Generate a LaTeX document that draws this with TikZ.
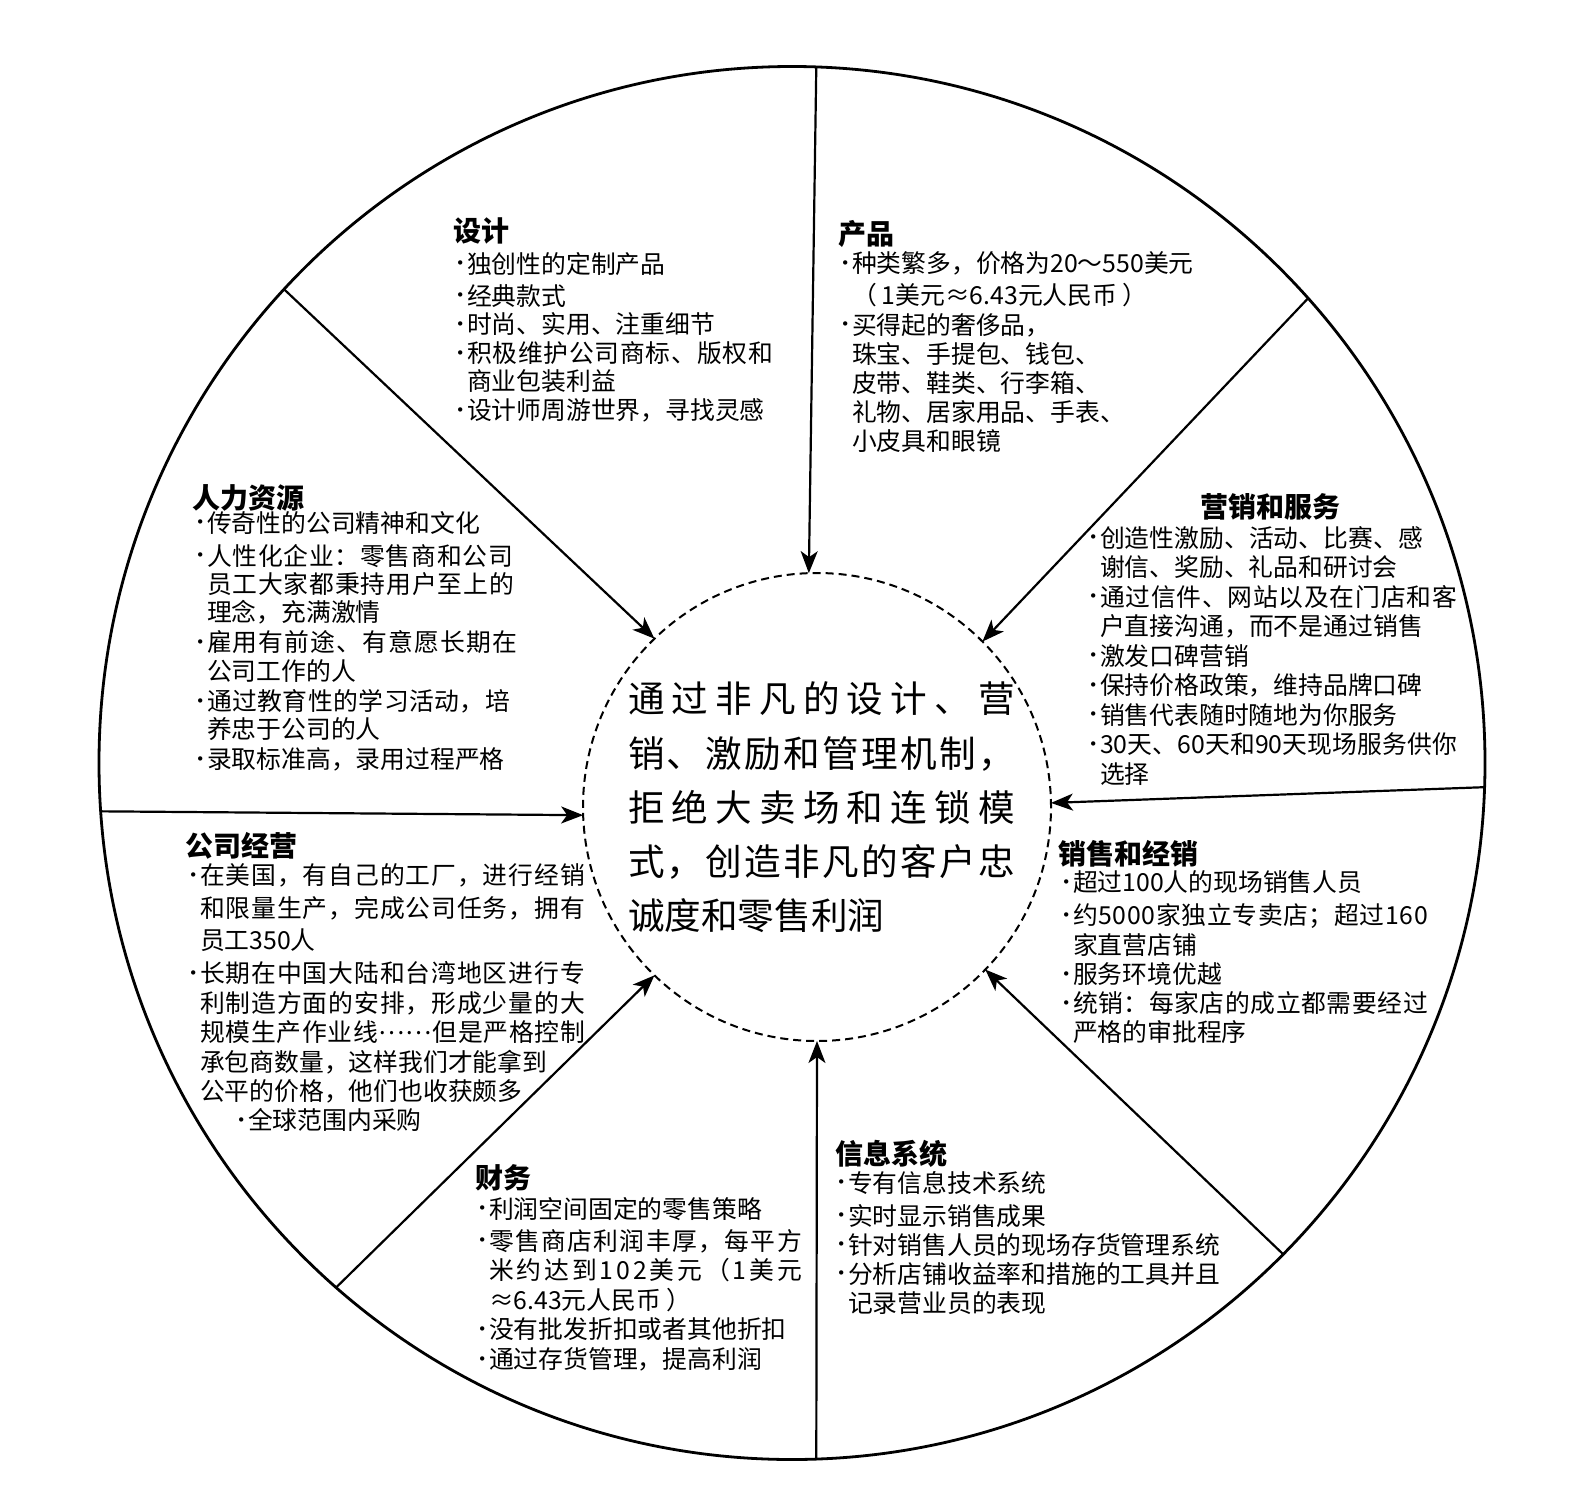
\documentclass[tikz,border=0pt]{standalone}
\usepackage{fontspec}
\setmainfont{Noto Sans CJK SC}
\newfontfamily\dvs{DejaVu Sans}
\usetikzlibrary{arrows.meta,shapes.geometric}

\newcommand\mybul{\makebox[4.5pt][l]{\raisebox{2.1pt}{\dvs\fontsize{7.5}{7.5}\selectfont\kern-1.1pt •}}}
\newcommand\cind{\hspace*{4.5pt}}
\newcommand\myell{\raisebox{3.6pt}{…}}
\def\jlgob#1{}
\def\jlend{}
\def\jlA#1#2{#1\ifx\jlend#2\expandafter\jlgob\else\hfil\expandafter\jlA\fi#2}
\newcommand\jl[2]{\makebox[#1][s]{\jlA#2\jlend}}

\tikzset{
  body/.style={anchor=north west, inner sep=0pt, outer sep=0pt, align=left,
    font=\fontsize{12.4}{#1}\selectfont},
  head/.style={anchor=north west, inner sep=0pt, outer sep=0pt,
    font=\fontsize{14}{16}\selectfont\bfseries},
  arr/.style={line width=1.1pt, -{Stealth[length=11pt,width=8.5pt,inset=3pt]}},
}

\begin{document}
\begin{tikzpicture}[x=0.5pt,y=-0.5pt]
\useasboundingbox (0,0) rectangle (1584,1488);
\fill[white] (0,0) rectangle (1584,1488);

% circles
\node[draw, ellipse, line width=1.4pt, inner sep=0pt, outer sep=0pt,
      minimum width=693pt, minimum height=696.5pt] (O) at (792,763) {};
\node[draw, circle, line width=1pt, dash pattern=on 4pt off 2.5pt,
      inner sep=0pt, outer sep=0pt, minimum size=234pt] (I) at (817,807) {};

% connectors
\draw[arr] (O.88.85) -- (I.92.7);
\draw[arr] (O.137.1) -- (I.134.5);
\draw[arr] (O.42.0) -- (I.45.3);
\draw[arr] (O.184.47) -- (I.182.2);
\draw[arr] (O.358.5) -- (I.1.45);
\draw[arr] (O.229.5) -- (I.226);
\draw[arr] (O.272.3) -- (I.270.7);
\draw[arr] (O.315.2) -- (I.316.6);

% centre text
\node[anchor=north west, inner sep=0pt, outer sep=0pt, align=left,
      font=\fontsize{18.3}{27.1}\selectfont] (T) at (628,682) {%
\jl{193.5pt}{通过非凡的设计、营}\\
\jl{193.5pt}{销、激励和管理机制，}\\
\jl{193.5pt}{拒绝大卖场和连锁模}\\
\jl{193.5pt}{式，创造非凡的客户忠}\\
诚度和零售利润};

% 设计
\node[head] (hD) at (453,218) {设计};
\node[body=14.3pt] (bD) at (458,252) {%
\mybul 独创性的定制产品\\[1.7pt]
\mybul 经典款式\\
\mybul 时尚、实用、注重细节\\
\mybul\jl{153pt}{积极维护公司商标、版权和}\\
\cind 商业包装利益\\
\mybul 设计师周游世界，寻找灵感};

% 产品
\node[head] (hP) at (838,220) {产品};
\node[body=14.6pt] (bP) at (843,252) {%
\mybul 种类繁多，价格为20～550美元\\[1.4pt]
\cind （\hspace{2.5pt}1美元≈6.43元人民币\hspace{2.5pt}）\\
\mybul 买得起的奢侈品，\\
\cind 珠宝、手提包、钱包、\\
\cind 皮带、鞋类、行李箱、\\
\cind 礼物、居家用品、手表、\\
\cind 小皮具和眼镜};

% 人力资源
\node[head] (hH) at (192,485) {人力资源};
\node[body=14.2pt] (bH) at (198,511) {%
\mybul 传奇性的公司精神和文化\\[2.3pt]
\mybul\jl{153pt}{人性化企业：零售商和公司}\\
\cind\jl{153.5pt}{员工大家都秉持用户至上的}\\
\cind 理念，充满激情\\[0.8pt]
\mybul\jl{155pt}{雇用有前途、有意愿长期在}\\
\cind 公司工作的人\\[0.8pt]
\mybul\jl{151.5pt}{通过教育性的学习活动，培}\\
\cind 养忠于公司的人\\[0.8pt]
\mybul 录取标准高，录用过程严格};

% 营销和服务
\node[head] (hM) at (1200,493) {营销和服务};
\node[body=14.75pt] (bM) at (1091,526) {%
\mybul\jl{161.5pt}{创造性激励、活动、比赛、感}\\
\cind 谢信、奖励、礼品和研讨会\\
\mybul\jl{178.5pt}{通过信件、网站以及在门店和客}\\
\cind\jl{161.5pt}{户直接沟通，而不是通过销售}\\
\mybul 激发口碑营销\\
\mybul 保持价格政策，维持品牌口碑\\
\mybul 销售代表随时随地为你服务\\
\mybul\jl{178.5pt}{30天、60天和90天现场服务供你}\\
\cind 选择};

% 公司经营
\node[head] (hC) at (185,832) {公司经营};
\node[body=14.7pt] (bC) at (191,864) {%
\mybul\jl{192.5pt}{在美国，有自己的工厂，进行经销}\\[1.8pt]
\cind\jl{192.5pt}{和限量生产，完成公司任务，拥有}\\[1.3pt]
\cind 员工350人\\[1.8pt]
\mybul\jl{192.5pt}{长期在中国大陆和台湾地区进行专}\\
\cind\jl{192.5pt}{利制造方面的安排，形成少量的大}\\
\cind\jl{192.5pt}{规模生产作业线\myell\myell 但是严格控制}\\
\cind 承包商数量，这样我们才能拿到\\
\cind 公平的价格，他们也收获颇多\\
\hspace*{24pt}\mybul 全球范围内采购};

% 销售和经销
\node[head] (hS) at (1058,840) {销售和经销};
\node[body=14.6pt] (bS) at (1064,871) {%
\mybul 超过100人的现场销售人员\\[1.9pt]
\mybul\jl{177.5pt}{约5000家独立专卖店；超过160}\\
\cind 家直营店铺\\
\mybul 服务环境优越\\
\mybul\jl{177.5pt}{统销：每家店的成立都需要经过}\\
\cind 严格的审批程序};

% 财务
\node[head] (hF) at (475,1165) {财务};
\node[body=14.8pt] (bF) at (480,1197) {%
\mybul 利润空间固定的零售策略\\[1.2pt]
\mybul\jl{156.5pt}{零售商店利润丰厚，每平方}\\
\cind\jl{156.5pt}{米约达到102美元（1美元}\\
\cind ≈6.43元人民币\hspace{2.5pt}）\\
\mybul 没有批发折扣或者其他折扣\\
\mybul 通过存货管理，提高利润};

% 信息系统
\node[head] (hI) at (835,1140) {信息系统};
\node[body=14.5pt] (bI) at (839,1171) {%
\mybul 专有信息技术系统\\[2pt]
\mybul 实时显示销售成果\\
\mybul 针对销售人员的现场存货管理系统\\
\mybul 分析店铺收益率和措施的工具并且\\
\cind 记录营业员的表现};
\end{tikzpicture}
\end{document}
